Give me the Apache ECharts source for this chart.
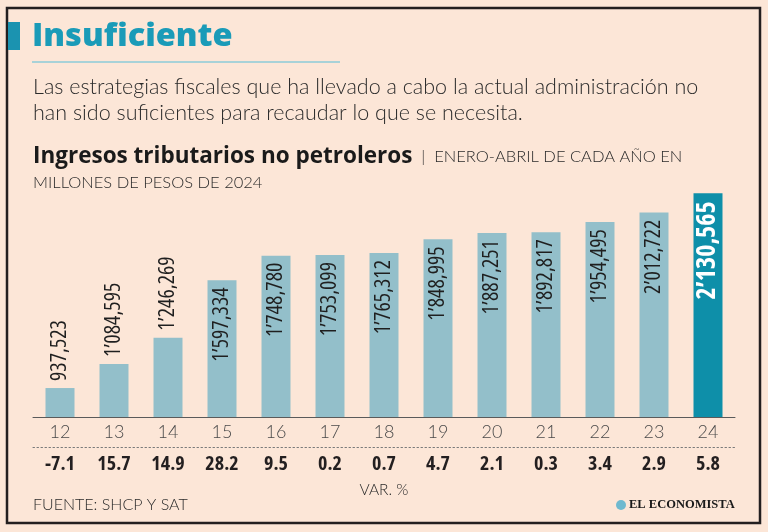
<!DOCTYPE html>
<html>
<head>
<meta charset="utf-8">
<script src="https://cdn.jsdelivr.net/npm/echarts@6/dist/echarts.min.js"></script>
<style>
  html, body { margin: 0; padding: 0; background: #fce6d7; }
  #chart { width: 768px; height: 532px; }
</style>
</head>
<body>
<div id="chart"></div>
<script>
const years = ['12','13','14','15','16','17','18','19','20','21','22','23','24'];
const ingresos = [937523, 1084595, 1246269, 1597334, 1748780, 1753099, 1765312, 1848995, 1887251, 1892817, 1954495, 2012722, 2130565];
const varPct = ['-7.1','15.7','14.9','28.2','9.5','0.2','0.7','4.7','2.1','0.3','3.4','2.9','5.8'];

const LIGHT = "Lato, 'Open Sans', sans-serif";
const OPEN = "'Open Sans', sans-serif";

function fmt(v) {
  const m = Math.floor(v / 1000000);
  const rest = v % 1000000;
  const th = Math.floor(rest / 1000);
  const u = rest % 1000;
  const pad = n => String(n).padStart(3, '0');
  if (m > 0) return m + '\u2019' + pad(th) + ',' + pad(u);
  return th + ',' + pad(u);
}

const lastIdx = ingresos.length - 1;
const barData = ingresos.map((v, i) => {
  const item = { value: v };
  if (i === lastIdx) {
    item.itemStyle = { color: '#0e8fa9' };
    item.label = { color: '#ffffff', fontWeight: 'extra-condensed bold', fontSize: 26, distance: 8 };
  } else if (i < 3) {
    item.label = { position: 'top', align: 'left', distance: 7 };
  }
  return item;
});

const chart = echarts.init(document.getElementById('chart'));
chart.setOption({
  backgroundColor: '#fce6d7',
  animation: false,
  grid: { left: 33, right: 33, top: 182, bottom: 115, containLabel: false },
  xAxis: [
    {
      type: 'category', data: years, gridIndex: 0, position: 'bottom',
      axisLine: { show: true, lineStyle: { color: '#5a5a5a', width: 1 } },
      axisTick: { show: false },
      axisLabel: { interval: 0, margin: 6, fontSize: 18, fontFamily: LIGHT, fontWeight: 300, color: '#4a4a4a' }
    },
    {
      type: 'category', data: varPct, gridIndex: 0, position: 'bottom', offset: 30,
      axisLine: { show: true, lineStyle: { color: '#7a7a7a', width: 1, type: [1.5, 2.5] } },
      axisTick: { show: false },
      axisLabel: { interval: 0, margin: 7, fontSize: 20, fontFamily: OPEN, fontWeight: 'condensed bold', color: '#231f20' }
    }
  ],
  yAxis: { type: 'value', min: 760000, max: 2200000, show: false, splitLine: { show: false } },
  series: [{
    type: 'bar', xAxisIndex: 0, data: barData, barWidth: 29,
    itemStyle: { color: '#93bfca' },
    label: {
      show: true, position: 'insideTop', rotate: 90, align: 'right', verticalAlign: 'middle',
      distance: 7, fontSize: 22, fontFamily: OPEN, fontWeight: 'extra-condensed', color: '#1f1f1f',
      formatter: p => fmt(p.value)
    }
  }],
  graphic: [
    { type: 'rect', shape: { x: 7, y: 8, width: 753, height: 515 }, style: { fill: 'none', stroke: '#231f20', lineWidth: 2.5 }, z: 10 },
    { type: 'rect', shape: { x: 8, y: 22, width: 12, height: 28 }, style: { fill: '#1b93b0' }, z: 10 },
    { type: 'text', x: 32, y: 37, style: { text: 'Insuficiente', font: "800 32.5px 'Open Sans', sans-serif", fill: '#1a9bb8', verticalAlign: 'middle' }, z: 10 },
    { type: 'line', shape: { x1: 32, y1: 62, x2: 340, y2: 62 }, style: { stroke: '#8ccbd9', lineWidth: 1.5 }, z: 10 },
    { type: 'text', x: 33, y: 87, style: { text: 'Las estrategias fiscales que ha llevado a cabo la actual administración no', font: "300 21.5px Lato, sans-serif", fill: '#2b2b2b', verticalAlign: 'middle' }, z: 10 },
    { type: 'text', x: 33, y: 113, style: { text: 'han sido suficientes para recaudar lo que se necesita.', font: "300 21.5px Lato, sans-serif", fill: '#2b2b2b', verticalAlign: 'middle' }, z: 10 },
    { type: 'text', x: 33, y: 157, style: {
        text: '{b|Ingresos tributarios no petroleros}{l|  |  ENERO-ABRIL DE CADA AÑO EN}',
        verticalAlign: 'middle',
        rich: {
          b: { font: "bold 22.5px 'Open Sans', sans-serif", fill: '#1a1a1a' },
          l: { font: "300 16.5px Lato, sans-serif", fill: '#2b2b2b' }
        }
      }, z: 10 },
    { type: 'text', x: 33, y: 183, style: { text: 'MILLONES DE PESOS DE 2024', font: "300 16.5px Lato, sans-serif", fill: '#2b2b2b', verticalAlign: 'middle' }, z: 10 },
    { type: 'text', x: 384, y: 490, style: { text: 'VAR. %', font: "300 15.5px Lato, sans-serif", fill: '#2b2b2b', align: 'center', verticalAlign: 'middle' }, z: 10 },
    { type: 'text', x: 33, y: 505, style: { text: 'FUENTE: SHCP Y SAT', font: "300 16px Lato, sans-serif", fill: '#2b2b2b', verticalAlign: 'middle' }, z: 10 },
    { type: 'circle', shape: { cx: 621, cy: 505, r: 5 }, style: { fill: '#6fb9cf' }, z: 10 },
    { type: 'text', x: 629, y: 505, style: { text: 'EL ECONOMISTA', font: "bold 12.5px 'Liberation Serif', serif", fill: '#1a1a1a', verticalAlign: 'middle' }, z: 10 }
  ]
});
</script>
</body>
</html>
